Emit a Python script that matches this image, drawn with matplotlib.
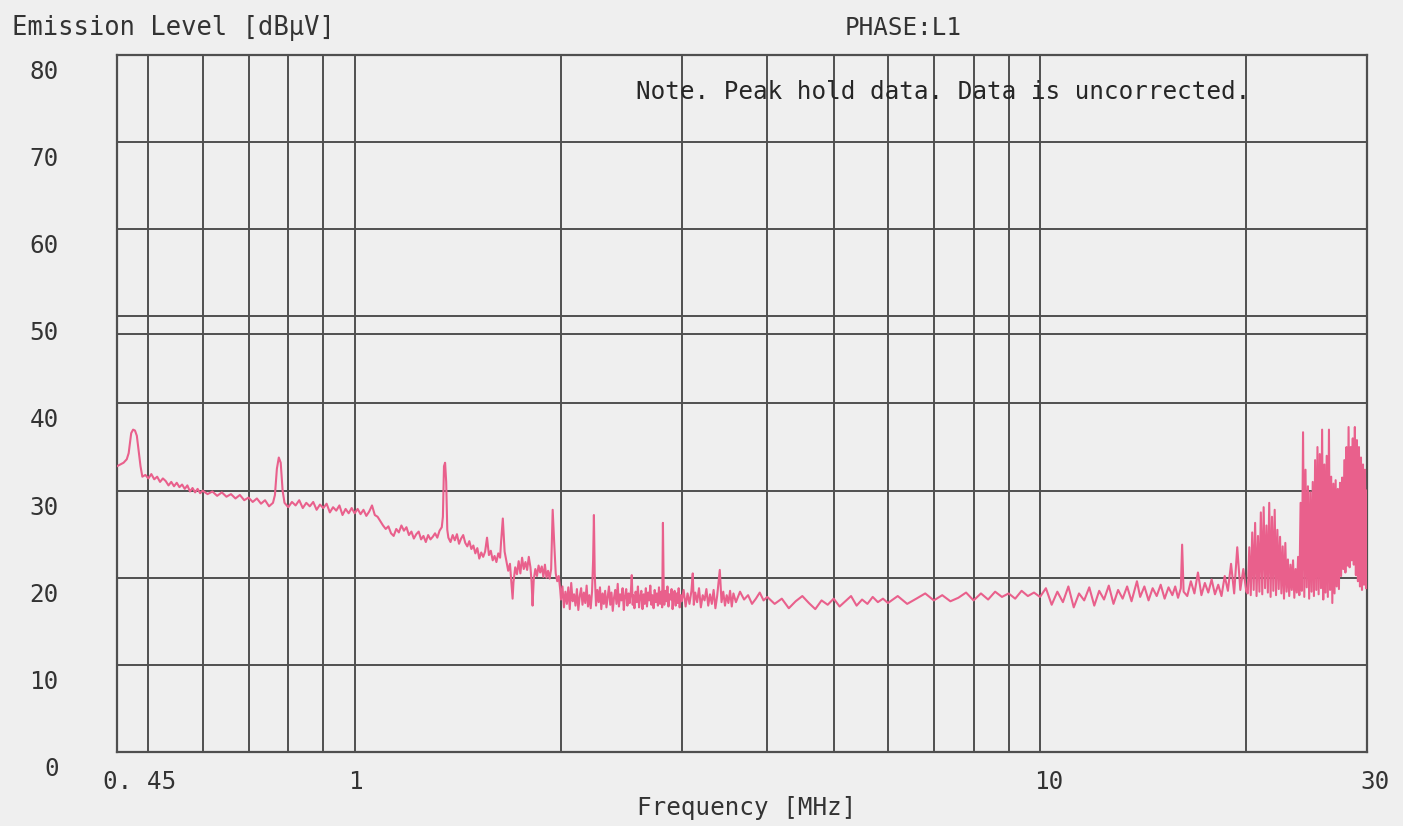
import matplotlib
matplotlib.use('Agg')
import matplotlib.pyplot as plt
import matplotlib.transforms as mtransforms
from matplotlib.ticker import LogLocator, NullFormatter

plt.rcParams['font.family'] = 'DejaVu Sans Mono'
plt.rcParams['font.size'] = 17.5

# (MHz, dBuV)
low_band = [
    (0.450, 32.8), (0.455, 33.0), (0.460, 33.2), (0.465, 33.6), (0.468, 34.3), (0.470, 35.5),
    (0.472, 36.6), (0.475, 37.0), (0.478, 36.9), (0.481, 36.3), (0.484, 34.5), (0.487, 32.8),
    (0.490, 31.6), (0.495, 31.8), (0.500, 31.4), (0.505, 31.9), (0.510, 31.3), (0.515, 31.6),
    (0.520, 31.0), (0.525, 31.4), (0.530, 31.1), (0.535, 30.6), (0.540, 31.0), (0.545, 30.5),
    (0.550, 30.9), (0.555, 30.4), (0.560, 30.7), (0.565, 30.2), (0.570, 30.6), (0.575, 29.9),
    (0.580, 30.3), (0.585, 29.8), (0.590, 30.2), (0.595, 29.7), (0.600, 30.0), (0.61, 29.6),
    (0.62, 29.9), (0.63, 29.4), (0.64, 29.8), (0.65, 29.3), (0.66, 29.6), (0.67, 29.1),
    (0.68, 29.5), (0.69, 28.9), (0.70, 29.2), (0.71, 28.7), (0.72, 29.1), (0.73, 28.5),
    (0.74, 28.9), (0.75, 28.2), (0.76, 28.6), (0.765, 29.5), (0.770, 32.5), (0.775, 33.8),
    (0.780, 33.2), (0.785, 30.0), (0.79, 28.6), (0.80, 28.1), (0.81, 28.7), (0.82, 28.3),
    (0.83, 28.9), (0.84, 28.0), (0.85, 28.6), (0.86, 28.2), (0.87, 28.7), (0.88, 27.8),
    (0.89, 28.4), (0.90, 28.0), (0.91, 28.5), (0.92, 27.5), (0.93, 28.1), (0.94, 27.7),
    (0.95, 28.3), (0.96, 27.2), (0.97, 27.9), (0.98, 27.4), (0.99, 28.0), (1.00, 27.4),
    (1.01, 27.9), (1.02, 27.3), (1.03, 27.8), (1.04, 27.1), (1.05, 27.6), (1.06, 28.3),
    (1.07, 27.2), (1.08, 27.0), (1.09, 26.5), (1.10, 26.0), (1.11, 25.6), (1.12, 25.9),
    (1.13, 25.1), (1.14, 24.8), (1.15, 25.6), (1.16, 25.2), (1.17, 26.0), (1.18, 25.4),
    (1.19, 25.8), (1.20, 24.9), (1.21, 25.3), (1.22, 24.5), (1.23, 25.0), (1.24, 25.3),
    (1.25, 24.4), (1.26, 24.8), (1.27, 24.1), (1.28, 24.9), (1.29, 24.4), (1.30, 24.7),
    (1.31, 25.1), (1.32, 24.6), (1.33, 25.4), (1.34, 25.8), (1.345, 27.0), (1.350, 32.8),
    (1.355, 33.2), (1.360, 31.0), (1.365, 25.5), (1.37, 24.6), (1.38, 24.1), (1.39, 24.9),
    (1.40, 24.3), (1.41, 25.0), (1.42, 23.9), (1.43, 24.5), (1.44, 24.9), (1.45, 24.0),
    (1.46, 23.6), (1.47, 24.2), (1.48, 23.3), (1.49, 23.7), (1.50, 22.8), (1.51, 23.4),
    (1.52, 22.2), (1.53, 22.9), (1.54, 22.4), (1.55, 23.0), (1.56, 24.6), (1.57, 22.6),
    (1.58, 23.1), (1.59, 22.0), (1.60, 22.5), (1.61, 21.8), (1.62, 22.8), (1.63, 22.3),
    (1.635, 24.0), (1.645, 26.8), (1.655, 23.0), (1.665, 21.9), (1.675, 20.8), (1.685, 21.6),
    (1.695, 19.0), (1.700, 17.6), (1.705, 19.5), (1.715, 21.2), (1.725, 20.4), (1.735, 21.9),
    (1.745, 20.5), (1.755, 22.3), (1.765, 21.0), (1.775, 21.8), (1.785, 20.9), (1.795, 22.4),
    (1.805, 21.2), (1.812, 19.5), (1.818, 16.8), (1.825, 19.8), (1.835, 21.0), (1.845, 20.2),
    (1.855, 21.4), (1.865, 20.6), (1.875, 21.3), (1.885, 20.1), (1.895, 21.5), (1.905, 20.0),
    (1.915, 20.8), (1.925, 19.9), (1.935, 21.0), (1.945, 27.8), (1.955, 24.0), (1.965, 20.5),
    (1.975, 19.6), (1.985, 20.2), (1.995, 18.6),
]

mid_band = [
    (2.00, 17.5), (2.01, 19.0), (2.02, 16.6), (2.03, 18.4), (2.04, 17.0), (2.05, 18.9),
    (2.06, 16.4), (2.07, 19.4), (2.08, 17.3), (2.09, 18.1), (2.10, 16.8), (2.11, 18.7),
    (2.12, 16.3), (2.13, 17.9), (2.14, 18.8), (2.15, 16.9), (2.16, 18.3), (2.17, 17.1),
    (2.18, 19.1), (2.19, 16.7), (2.20, 18.0), (2.21, 16.5), (2.22, 18.4), (2.228, 22.0),
    (2.234, 27.2), (2.240, 20.5), (2.25, 16.8), (2.26, 18.6), (2.27, 17.2), (2.28, 18.9),
    (2.29, 16.4), (2.30, 18.2), (2.31, 17.0), (2.32, 18.5), (2.33, 16.6), (2.34, 17.8),
    (2.35, 19.0), (2.36, 16.9), (2.37, 18.3), (2.38, 16.2), (2.39, 17.7), (2.40, 18.6),
    (2.41, 17.0), (2.42, 19.3), (2.43, 16.7), (2.44, 18.1), (2.45, 17.4), (2.46, 18.8),
    (2.47, 16.3), (2.48, 17.9), (2.49, 18.7), (2.50, 16.8), (2.51, 18.2), (2.52, 17.1),
    (2.53, 18.6), (2.537, 20.3), (2.545, 16.9), (2.55, 18.0), (2.56, 16.5), (2.57, 18.4),
    (2.58, 17.2), (2.59, 19.0), (2.60, 16.6), (2.61, 17.8), (2.62, 18.5), (2.63, 16.4),
    (2.64, 18.1), (2.65, 17.0), (2.66, 18.8), (2.67, 16.7), (2.68, 18.3), (2.69, 17.4),
    (2.70, 19.1), (2.71, 16.9), (2.72, 18.0), (2.73, 16.5), (2.74, 18.6), (2.75, 17.2),
    (2.76, 18.2), (2.77, 16.8), (2.78, 18.9), (2.79, 17.0), (2.80, 18.4), (2.81, 16.6),
    (2.817, 26.3), (2.825, 18.0), (2.83, 16.9), (2.84, 18.5), (2.85, 17.3), (2.86, 19.0),
    (2.87, 16.7), (2.88, 18.1), (2.89, 17.5), (2.90, 18.7), (2.91, 16.4), (2.92, 17.9),
    (2.93, 18.5), (2.94, 16.8), (2.95, 18.2), (2.96, 17.1), (2.97, 18.8), (2.98, 16.6),
    (2.99, 18.0), (3.00, 17.3), (3.02, 18.6), (3.04, 16.7), (3.06, 18.2), (3.08, 17.0),
    (3.10, 18.5), (3.114, 20.5), (3.125, 16.9), (3.14, 18.3), (3.16, 17.2), (3.18, 18.8),
    (3.20, 16.6), (3.22, 18.0), (3.24, 17.4), (3.26, 18.7), (3.28, 16.8), (3.30, 18.1),
    (3.32, 17.0), (3.34, 18.6), (3.36, 16.5), (3.38, 17.9), (3.41, 20.9), (3.43, 17.2),
    (3.45, 18.4), (3.47, 16.8), (3.49, 18.0), (3.51, 17.1), (3.53, 18.5), (3.55, 16.7),
    (3.57, 18.2), (3.60, 17.2), (3.65, 18.4), (3.70, 17.5), (3.75, 18.0), (3.80, 17.0),
    (3.85, 17.6), (3.90, 18.3), (3.95, 17.4), (4.00, 17.8), (4.1, 17.0), (4.2, 17.6),
    (4.3, 16.5), (4.4, 17.3), (4.5, 17.9), (4.6, 17.1), (4.7, 16.4), (4.8, 17.4),
    (4.9, 16.9), (5.0, 17.6), (5.1, 16.7), (5.2, 17.3), (5.3, 17.9), (5.4, 16.8),
    (5.5, 17.5), (5.6, 17.0), (5.7, 17.8), (5.8, 17.2), (5.9, 17.6), (6.0, 17.1),
    (6.2, 17.9), (6.4, 17.0), (6.6, 17.6), (6.8, 18.2), (7.0, 17.4), (7.2, 18.0),
    (7.4, 17.3), (7.6, 17.7), (7.8, 18.3), (8.0, 17.4), (8.2, 18.2), (8.4, 17.5),
    (8.6, 18.4), (8.8, 17.8), (9.0, 18.2), (9.2, 17.6), (9.4, 18.5), (9.6, 17.9),
    (9.8, 18.3),
]

high_band = [
    (10.0, 17.8), (10.2, 18.8), (10.4, 16.9), (10.6, 18.4), (10.8, 17.2), (11.0, 19.0),
    (11.2, 16.6), (11.4, 18.2), (11.6, 17.4), (11.8, 18.9), (12.0, 16.8), (12.2, 18.5),
    (12.4, 17.5), (12.6, 19.1), (12.8, 17.0), (13.0, 18.6), (13.2, 17.6), (13.4, 19.0),
    (13.6, 17.3), (13.85, 19.6), (14.0, 17.8), (14.2, 19.0), (14.4, 17.4), (14.6, 18.8),
    (14.8, 17.9), (15.0, 19.2), (15.2, 17.6), (15.4, 18.9), (15.6, 18.0), (15.75, 19.0),
    (15.9, 17.7), (16.05, 18.8), (16.12, 23.8), (16.2, 18.4), (16.4, 17.9), (16.6, 19.6),
    (16.8, 18.2), (17.0, 20.6), (17.2, 18.0), (17.4, 19.4), (17.6, 18.3), (17.8, 19.8),
    (18.0, 18.1), (18.2, 19.2), (18.4, 17.9), (18.6, 20.2), (18.8, 18.5), (19.0, 21.6),
    (19.2, 18.2), (19.4, 23.5), (19.6, 18.6), (19.8, 21.0), (20.0, 18.4),
]

top_band = [
    (20.1, 18.2), (20.2, 23.5), (20.3, 18.0), (20.4, 25.2), (20.5, 18.6), (20.6, 26.3),
    (20.7, 17.9), (20.8, 24.8), (20.9, 18.4), (21.0, 27.5), (21.1, 18.1), (21.2, 28.1),
    (21.3, 18.8), (21.4, 26.0), (21.5, 18.3), (21.6, 28.6), (21.7, 17.8), (21.8, 27.0),
    (21.9, 18.5), (22.0, 27.8), (22.1, 18.0), (22.2, 25.5), (22.3, 18.7), (22.4, 24.7),
    (22.5, 18.2), (22.6, 23.6), (22.7, 17.6), (22.8, 24.0), (22.9, 18.4), (23.0, 22.1),
    (23.1, 17.9), (23.2, 21.5), (23.3, 18.6), (23.4, 22.0), (23.5, 17.7), (23.6, 21.0),
    (23.7, 18.3), (23.8, 22.4), (23.9, 18.0), (24.0, 28.6), (24.1, 18.5), (24.2, 36.7),
    (24.3, 17.8), (24.4, 32.4), (24.5, 18.9), (24.6, 30.5), (24.7, 17.6), (24.8, 29.8),
    (24.9, 18.4), (25.0, 31.0), (25.1, 17.9), (25.2, 33.5), (25.3, 18.6), (25.4, 35.0),
    (25.5, 18.1), (25.6, 34.2), (25.7, 18.8), (25.8, 37.0), (25.9, 17.5), (26.0, 33.0),
    (26.1, 18.3), (26.2, 34.0), (26.3, 17.8), (26.4, 37.0), (26.5, 18.6), (26.6, 31.6),
    (26.7, 17.1), (26.8, 30.8), (26.9, 18.2), (27.0, 31.2), (27.1, 19.0), (27.2, 30.2),
    (27.3, 18.7), (27.4, 30.9), (27.5, 20.2), (27.6, 31.5), (27.7, 21.0), (27.8, 33.5),
    (27.9, 20.6), (28.0, 35.0), (28.1, 21.4), (28.2, 37.3), (28.3, 21.2), (28.4, 35.0),
    (28.5, 22.0), (28.6, 36.0), (28.7, 21.5), (28.8, 37.3), (28.9, 20.3), (29.0, 35.8),
    (29.1, 19.6), (29.2, 35.0), (29.3, 19.0), (29.4, 33.8), (29.5, 18.6), (29.6, 33.0),
    (29.7, 19.2), (29.8, 32.4), (29.9, 18.8), (30.0, 30.0),
]

limit_level = 48
x_ticks = [0.45, 1, 10, 30]
x_tick_labels = ['0. 45', '1', '10', '30']
y_ticks = [0, 10, 20, 30, 40, 50, 60, 70, 80]

trace = low_band + mid_band + high_band + top_band
freq = [p[0] for p in trace]
level = [p[1] for p in trace]

bg = '#efefef'
grid_c = '#4f4f4f'
text_c = '#333333'

fig = plt.figure(figsize=(14.03, 8.26), dpi=100, facecolor=bg)
ax = fig.add_axes([117 / 1403, 74 / 826, 1250 / 1403, 697 / 826])
ax.set_facecolor(bg)
ax.set_xscale('log')
ax.set_xlim(0.45, 30)
ax.set_ylim(0, 80)

ax.set_xticks(x_ticks)
ax.set_xticklabels(x_tick_labels)
ax.xaxis.set_minor_locator(LogLocator(base=10, subs=(2, 3, 4, 5, 6, 7, 8, 9), numticks=50))
ax.xaxis.set_minor_formatter(NullFormatter())
ax.set_yticks(y_ticks)
ax.tick_params(which='both', length=0, colors=text_c)
ax.tick_params(axis='y', pad=42)
ax.tick_params(axis='x', pad=13)

ax.grid(which='both', color=grid_c, lw=1.4)
ax.axhline(limit_level, color=grid_c, lw=1.4)
for s in ax.spines.values():
    s.set_color(grid_c)
    s.set_linewidth(1.6)

ax.plot(freq, level, color='#e9608c', lw=1.5, zorder=3)

# labels sit a bit below / right of their grid lines on this instrument plot
for lab in ax.get_yticklabels():
    lab.set_transform(lab.get_transform() + mtransforms.ScaledTranslation(0, -0.145, fig.dpi_scale_trans))
x_shift = [0.23, 0.01, 0.09, 0.08]
for lab, dx in zip(ax.get_xticklabels(), x_shift):
    lab.set_transform(lab.get_transform() + mtransforms.ScaledTranslation(dx, 0, fig.dpi_scale_trans))

fig.text(12 / 1403, 1 - 28 / 826, 'Emission Level [dB\u03bcV]', color=text_c, va='center', ha='left',
         fontsize=18.4)
fig.text(845 / 1403, 1 - 28 / 826, 'PHASE:L1', color=text_c, va='center', ha='left')
fig.text(636 / 1403, 1 - 92 / 826, 'Note. Peak hold data. Data is uncorrected.', color='#262626',
         va='center', ha='left', fontsize=17.5)
fig.text(747 / 1403, 1 - 808 / 826, 'Frequency [MHz]', color=text_c, va='center', ha='center')

plt.savefig('out.png', dpi=100, facecolor=bg)
